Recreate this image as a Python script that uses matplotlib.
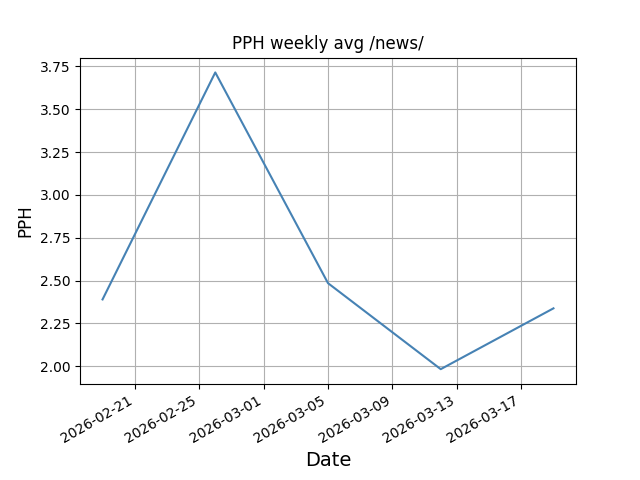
import matplotlib
matplotlib.use("Agg")
import matplotlib.pyplot as plt
import matplotlib.dates as mdates
import pandas as pd

dates = ["2026-02-19", "2026-02-26", "2026-03-05", "2026-03-12", "2026-03-19"]
pph = [2.39, 3.715, 2.485, 1.983, 2.338]

x = pd.to_datetime(dates)

fig, ax = plt.subplots(figsize=(6.4, 4.8), dpi=100)
ax.plot(x, pph, color="steelblue")
ax.set_title("PPH weekly avg /news/")
ax.set_xlabel("Date", fontsize=14)
ax.set_ylabel("PPH", fontsize=12)
ax.xaxis.set_major_locator(mdates.DayLocator(bymonthday=[1, 5, 9, 13, 17, 21, 25]))
ax.xaxis.set_major_formatter(mdates.DateFormatter("%Y-%m-%d"))
ax.grid(True)
fig.autofmt_xdate()
fig.savefig("out.png")
